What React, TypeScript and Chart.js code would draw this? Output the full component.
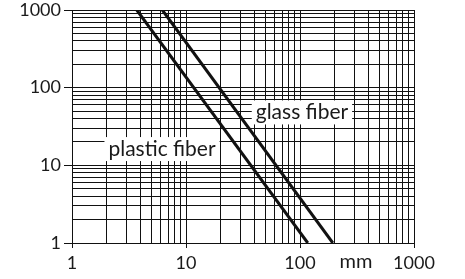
import { useEffect, useRef } from 'react';
import { Chart, registerables } from 'chart.js';
Chart.register(...registerables);

// data
const plasticX = [3.7, 117];
const plasticY = [1000, 1];
const glassX = [6.2, 194];
const glassY = [1000, 1];
const majorTicks = [1, 10, 100, 1000];
const unitLabel = 'mm';
const unitAt = 310;
const seriesNames = ['plastic fiber', 'glass fiber'];
const labelAtX = [6.16, 104];
const labelAtY = [16.2, 48];

const FONT = 'Lato, "Open Sans", "DejaVu Sans", sans-serif';

function logTicks(min: number, max: number) {
  const out: number[] = [];
  for (let d = min; d < max; d *= 10) for (let m = 1; m < 10; m++) out.push(m * d);
  out.push(max);
  return out;
}

const labelPlugin = {
  id: 'labels',
  beforeDatasetsDraw(chart: any) {
    const { ctx, scales } = chart;
    ctx.save();
    ctx.font = `21px ${FONT}`;
    ctx.textAlign = 'center';
    ctx.textBaseline = 'middle';
    seriesNames.forEach((name, i) => {
      const px = scales.x.getPixelForValue(labelAtX[i]);
      const py = scales.y.getPixelForValue(labelAtY[i]);
      const w = ctx.measureText(name).width + 8;
      const h = 24;
      ctx.fillStyle = '#fff';
      ctx.fillRect(px - w / 2, py - h / 2, w, h);
      ctx.fillStyle = '#1a1a1a';
      ctx.fillText(name, px, py);
    });
    ctx.restore();
  },
  afterDraw(chart: any) {
    const { ctx, scales, chartArea } = chart;
    ctx.save();
    ctx.font = `20px ${FONT}`;
    ctx.textAlign = 'center';
    ctx.textBaseline = 'alphabetic';
    ctx.fillStyle = '#1a1a1a';
    ctx.fillText(unitLabel, scales.x.getPixelForValue(unitAt), chartArea.bottom + 25);
    ctx.restore();
  },
};

export default function App() {
  const ref = useRef<HTMLCanvasElement>(null);
  useEffect(() => {
    document.body.style.margin = '0';
    const grid = {
      color: '#111',
      lineWidth: 1,
      drawTicks: true,
      tickColor: (c: any) => (c.tick && majorTicks.includes(c.tick.value) ? '#111' : 'rgba(0,0,0,0)'),
    };
    const build = (scale: any) => {
      scale.ticks = logTicks(1, 1000).map((v) => ({ value: v, major: majorTicks.includes(v) }));
    };
    const chart = new Chart(ref.current!, {
      type: 'line',
      data: {
        datasets: [
          {
            label: seriesNames[0],
            data: plasticX.map((x, i) => ({ x, y: plasticY[i] })),
            borderColor: '#111',
            borderWidth: 3,
            pointRadius: 0,
          },
          {
            label: seriesNames[1],
            data: glassX.map((x, i) => ({ x, y: glassY[i] })),
            borderColor: '#111',
            borderWidth: 3,
            pointRadius: 0,
          },
        ],
      },
      options: {
        animation: false,
        responsive: false,
        layout: { padding: { top: 10, right: 51, left: 0, bottom: 0 } },
        plugins: { legend: { display: false }, tooltip: { enabled: false } },
        scales: {
          x: {
            type: 'logarithmic',
            min: 1,
            max: 1000,
            afterBuildTicks: build,
            afterFit: (s: any) => { s.height = 36; s.paddingLeft = 0; s.paddingRight = 0; },
            grid: { ...grid, tickLength: 5 },
            border: { color: '#111', width: 1 },
            ticks: {
              autoSkip: false,
              maxRotation: 0,
              padding: 4,
              color: '#1a1a1a',
              font: { family: FONT, size: 18 },
              callback: (v: any) => (majorTicks.includes(Number(v)) ? String(v) : ''),
            },
          },
          y: {
            type: 'logarithmic',
            min: 1,
            max: 1000,
            afterBuildTicks: build,
            afterFit: (s: any) => { s.width = 72; s.paddingTop = 0; s.paddingBottom = 0; },
            grid: { ...grid, tickLength: 8 },
            border: { color: '#111', width: 1 },
            ticks: {
              autoSkip: false,
              padding: 3,
              color: '#1a1a1a',
              font: { family: FONT, size: 18 },
              callback: (v: any) => (majorTicks.includes(Number(v)) ? String(v) : ''),
            },
          },
        },
      },
      plugins: [labelPlugin],
    });
    return () => chart.destroy();
  }, []);
  return (
    <div style={{ width: 465, height: 279 }}>
      <canvas ref={ref} width={465} height={279} />
    </div>
  );
}
